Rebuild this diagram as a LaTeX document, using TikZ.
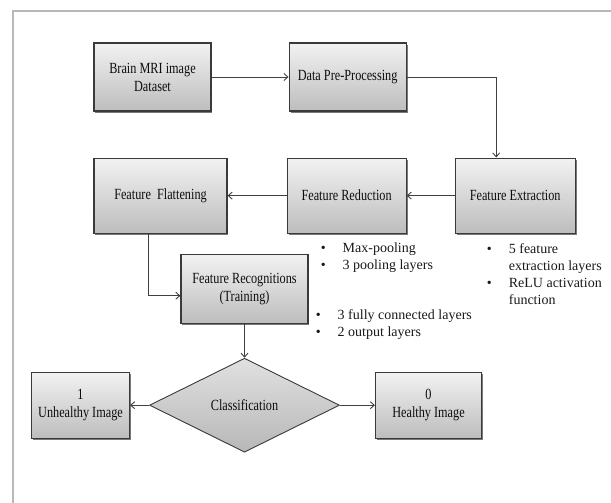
\documentclass[tikz,border=0pt]{standalone}
\usepackage{fontspec}
\setmainfont{Liberation Serif}
\newfontfamily\boxfont[FakeStretch=0.79]{Liberation Serif}
\usepackage{xcolor}
\usepackage{tikz}
\usetikzlibrary{arrows.meta,positioning,shapes.geometric,shadows}
\definecolor{EdgeGray}{HTML}{3A3A3A}
\definecolor{LineGray}{HTML}{404040}
\definecolor{FrameGray}{HTML}{B8B8B8}
\definecolor{ShadeTop}{HTML}{F2F2F2}
\definecolor{ShadeBot}{HTML}{BDBDBD}
\newcommand{\blt}{\makebox[22pt][l]{\textbullet}}
\newcommand{\ind}{\hspace*{22pt}}

\begin{document}
\begin{tikzpicture}[
  node distance=46pt and 77pt,
  box/.style={draw=EdgeGray,line width=1.1pt,top color=ShadeTop,bottom color=ShadeBot,inner sep=0pt,align=center,text=black!95,font=\boxfont\fontsize{15.5}{18}\selectfont,drop shadow={shadow xshift=1.4pt,shadow yshift=-1.6pt,fill=black!75,opacity=0.7}},
  decide/.style={diamond,draw=EdgeGray,line width=0.9pt,top color=black!12,bottom color=black!28,inner sep=0pt,minimum width=190pt,minimum height=94pt,text=black!95,font=\boxfont\fontsize{15.5}{18}\selectfont},
  note/.style={align=left,inner sep=0pt,anchor=north west,text=black!90,font=\fontsize{14}{17}\selectfont},
  arr/.style={-{Straight Barb[length=4pt,width=7pt]},line width=0.9pt,draw=LineGray}
]
\useasboundingbox (0,0) rectangle (611pt,-503pt);
\draw[FrameGray,line width=1.3pt] (13pt,-503pt) |- (611pt,-11pt);

\node[box,minimum width=117pt,minimum height=68pt] (brain) at (152.5pt,-77pt) {Brain MRI image\\Dataset};
\node[box,minimum width=117pt,minimum height=68pt,right=of brain] (prep) {Data Pre-Processing};
\node[box,minimum width=120pt,minimum height=75pt,below right=46pt and 48pt of prep.south east] (extract) {Feature Extraction};
\node[box,minimum width=119pt,minimum height=75pt,left=48pt of extract] (reduce) {Feature Reduction};
\node[box,minimum width=133pt,minimum height=75pt,left=59pt of reduce] (flatten) {Feature~ Flattening};
\node[box,minimum width=127pt,minimum height=69pt,below=20pt of flatten.south,xshift=84pt] (recog) {Feature Recognitions\\(Training)};
\node[decide,below=34pt of recog] (classify) {Classification};
\node[box,minimum width=98pt,minimum height=66pt,left=19pt of classify] (sick) {1\\Unhealthy Image};
\node[box,minimum width=106pt,minimum height=66pt,right=35pt of classify] (healthy) {0\\Healthy Image};

% bullet notes
\node[note] (reducenote) at ([xshift=34pt,yshift=-9pt]reduce.south west) {\blt Max-pooling\\\blt 3 pooling layers};
\node[note] (extractnote) at ([xshift=32pt,yshift=-10pt]extract.south west) {\blt 5 feature\\\ind extraction layers\\\blt ReLU activation\\\ind function};
\node[note] (recognote) at ([xshift=7pt,yshift=14pt]recog.south east) {\blt 3 fully connected layers\\\blt 2 output layers};

\draw[arr] (brain) -- (prep);
\draw[arr] (prep.east) -| ([xshift=-19pt]extract.north);
\draw[arr] (extract) -- (reduce);
\draw[arr] (reduce) -- (flatten);
\draw[arr] ([xshift=-12pt]flatten.south) |- ([yshift=-7pt]recog.west);
\draw[arr] (recog) -- (classify);
\draw[arr] (classify) -- (sick);
\draw[arr] (classify) -- (healthy);
\end{tikzpicture}
\end{document}
